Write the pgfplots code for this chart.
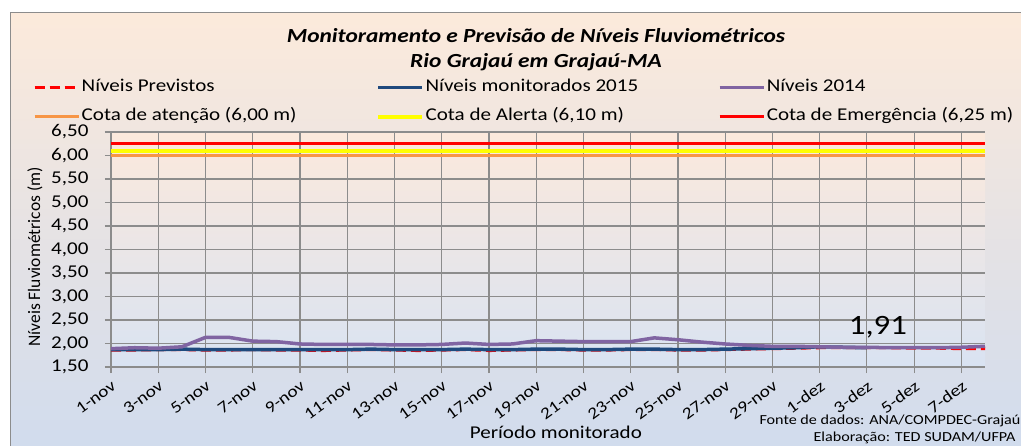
\documentclass[border=0pt]{standalone}
\usepackage{fontspec}
\setmainfont{Carlito}[FakeStretch=1.17]
\newfontfamily\ylabfont{Carlito}
\usepackage{pgfplots}
\pgfplotsset{compat=1.18}
\definecolor{prevred}{HTML}{FF0000}
\definecolor{mon}{HTML}{1F497D}
\definecolor{nivA}{HTML}{8064A2}
\definecolor{aten}{HTML}{F79646}
\definecolor{alerta}{HTML}{FFFF00}
\definecolor{emerg}{HTML}{FF0000}
\definecolor{bgtop}{HTML}{FCEADB}
\definecolor{bgbot}{HTML}{CFDBEE}
\definecolor{plottop}{HTML}{FCE9DC}
\definecolor{plotbot}{HTML}{D9E3F2}
\definecolor{gridc}{HTML}{8C8C8C}
\definecolor{framec}{HTML}{8C8C8C}
\begin{document}
\begin{tikzpicture}
\path[use as bounding box] (0pt,0pt) rectangle (1021pt,445pt);
\shadedraw[top color=bgtop, bottom color=bgbot, draw=framec, line width=1pt] (10pt,432pt) rectangle (1040pt,-20pt);
\node[font=\fontsize{20}{24}\selectfont\bfseries\itshape] at (536pt,409pt) {Monitoramento e Previsão de Níveis Fluviométricos};
\node[font=\fontsize{20}{24}\selectfont\bfseries\itshape] at (536pt,383pt) {Rio Grajaú em Grajaú-MA};
\node[anchor=east, font=\fontsize{13.8}{15}\selectfont] at (1024pt,24pt) {Fonte de dados: ANA/COMPDEC-Grajaú};
\node[anchor=east, font=\fontsize{13.8}{15}\selectfont] at (1019pt,7pt) {Elaboração: TED SUDAM/UFPA};
\begin{axis}[
  at={(111pt,78pt)}, anchor=south west,
  width=874pt, height=235pt, scale only axis,
  xmin=0, xmax=37, ymin=1.5, ymax=6.5,
  axis background/.style={top color=plottop, bottom color=plotbot},
  axis x line*=bottom, axis y line*=left,
  axis line style={gridc, line width=1.2pt, -},
  grid=major, major grid style={gridc, line width=1.2pt},
  tick align=outside, major tick length=6pt, tick style={gridc, line width=1.2pt},
  xtick={0,2,...,36},
  xticklabels={1-nov,3-nov,5-nov,7-nov,9-nov,11-nov,13-nov,15-nov,17-nov,19-nov,21-nov,23-nov,25-nov,27-nov,29-nov,1-dez,3-dez,5-dez,7-dez},
  xticklabel shift=5pt,
  xticklabel style={font=\fontsize{16.5}{18}\selectfont, inner sep=1pt, rotate=36, anchor=north east},
  ytick={1.5,2,2.5,3,3.5,4,4.5,5,5.5,6,6.5},
  yticklabel={\pgfmathprintnumber{\tick}\hspace*{13pt}},
  yticklabel style={font=\fontsize{18}{20}\selectfont},
  /pgf/number format/.cd, fixed, fixed zerofill, precision=2, use comma, assume math mode=true, /pgfplots/.cd,
  ylabel={\ylabfont Níveis Fluviométricos (m)},
  every axis y label/.style={at={(axis description cs:-0.087,0.468)}, rotate=90, anchor=center, font=\fontsize{17.5}{20}\selectfont},
  xlabel={Período monitorado},
  every axis x label/.style={at={(axis description cs:0.509,-0.2766)}, anchor=center, font=\fontsize{18}{20}\selectfont},
  legend columns=3,
  legend cell align=left,
  legend image code/.code={\draw[#1] (0pt,0pt) -- (44pt,0pt);},
  legend style={at={(axis description cs:-0.0892,1.1275)}, anchor=west, draw=none, fill=none,
    font=\fontsize{18}{20}\selectfont, inner sep=0pt, row sep=10pt,
    nodes={inner sep=1.5pt, text height=12pt, text depth=4pt},
    /tikz/every even column/.append style={column sep=78pt}},
]
\addplot[prevred, line width=3pt, dash pattern=on 10pt off 5pt] coordinates {
(0,1.86)(1,1.86)(2,1.87)(3,1.87)(4,1.86)(5,1.86)(6,1.87)(7,1.86)(8,1.86)(9,1.85)(10,1.86)(11,1.87)(12,1.86)(13,1.85)(14,1.86)(15,1.87)(16,1.85)(17,1.86)(18,1.87)(19,1.87)(20,1.86)(21,1.86)(22,1.87)(23,1.87)(24,1.86)(25,1.86)(26,1.87)(27,1.88)(28,1.89)(29,1.90)(30,1.91)(31,1.91)(32,1.91)(33,1.91)(34,1.90)(35,1.90)(36,1.89)(37,1.89)};
\addlegendentry{Níveis Previstos}
\addplot[mon, line width=3.5pt] coordinates {
(0,1.87)(1,1.87)(2,1.87)(3,1.88)(4,1.87)(5,1.87)(6,1.87)(7,1.87)(8,1.87)(9,1.87)(10,1.87)(11,1.88)(12,1.87)(13,1.87)(14,1.87)(15,1.88)(16,1.87)(17,1.87)(18,1.88)(19,1.88)(20,1.87)(21,1.87)(22,1.88)(23,1.88)(24,1.87)(25,1.87)(26,1.88)(27,1.89)(28,1.90)(29,1.91)(30,1.93)(31,1.92)(32,1.91)};
\addlegendentry{Níveis monitorados 2015}
\addplot[nivA, line width=3.5pt] coordinates {
(0,1.89)(1,1.91)(2,1.90)(3,1.93)(4,2.13)(5,2.13)(6,2.05)(7,2.04)(8,1.99)(9,1.98)(10,1.98)(11,1.98)(12,1.97)(13,1.97)(14,1.98)(15,2.01)(16,1.98)(17,1.99)(18,2.06)(19,2.05)(20,2.04)(21,2.04)(22,2.04)(23,2.12)(24,2.08)(25,2.03)(26,1.99)(27,1.96)(28,1.94)(29,1.94)(30,1.93)(31,1.92)(32,1.92)(33,1.91)(34,1.91)(35,1.91)(36,1.92)(37,1.94)};
\addlegendentry{Níveis 2014}
\addplot[aten, line width=3pt] coordinates {(0,6.00)(37,6.00)};
\addlegendentry{Cota de atenção (6,00 m)}
\addplot[alerta, line width=4pt] coordinates {(0,6.10)(37,6.10)};
\addlegendentry{Cota de Alerta (6,10 m)}
\addplot[emerg, line width=3pt] coordinates {(0,6.25)(37,6.25)};
\addlegendentry{Cota de Emergência (6,25 m)}
\node[font=\fontsize{28}{30}\selectfont, anchor=center, xshift=11pt, yshift=21pt] at (axis cs:32,1.91) {1,91};
\end{axis}
\end{tikzpicture}
\end{document}
